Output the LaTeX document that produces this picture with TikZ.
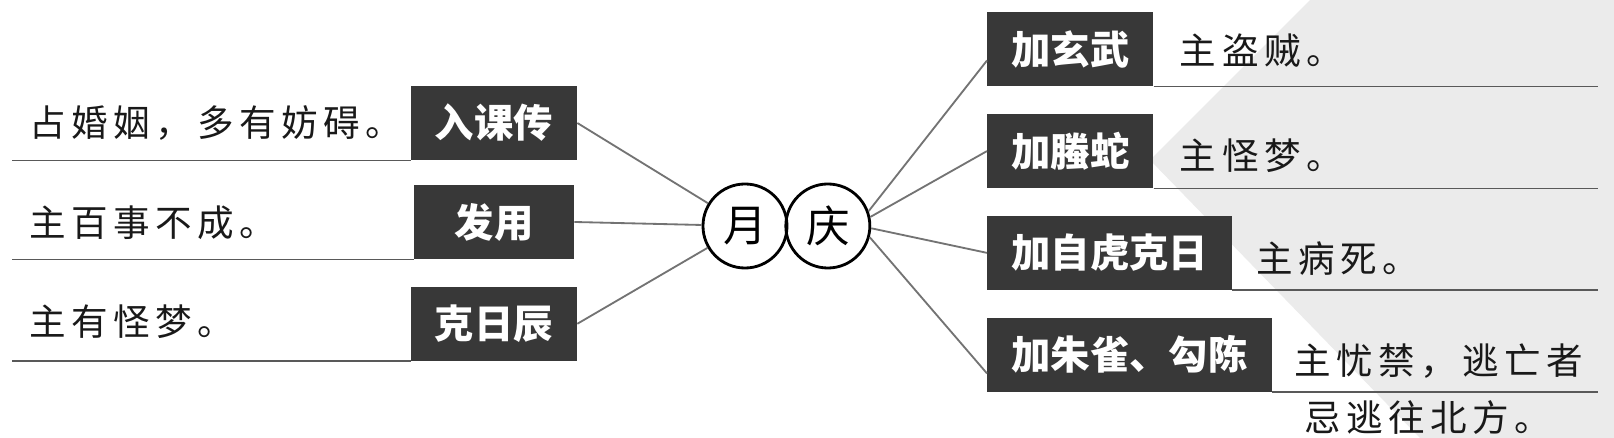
\documentclass[tikz,border=0pt]{standalone}
\usepackage{fontspec}
\newfontfamily\cjk{Noto Sans CJK SC}
\newfontfamily\cjkwide[LetterSpace=15]{Noto Sans CJK SC}
\usetikzlibrary{positioning}

\begin{document}
\begin{tikzpicture}[
      x=0.025cm,
      y=-0.025cm,
      tag_box/.style={
         rectangle,
         fill=black!78,
         text=white,
         inner xsep=0.6cm,
         inner ysep=0pt,
         minimum width=4cm,
         minimum height=1.85cm,
         font=\cjk\bfseries\fontsize{28}{30}\selectfont},
      note_text/.style={
         inner sep=0pt,
         text=black!90,
         font=\cjkwide\fontsize{26}{28}\selectfont},
      circle_mark/.style={
         circle,
         draw=black,
         line width=2pt,
         inner sep=0pt,
         minimum size=2.1cm,
         font=\cjk\fontsize{31}{33}\selectfont},
      link_line/.style={
         draw=black!55,
         line width=1.3pt},
      rule_line/.style={
         draw=black!65,
         line width=1.1pt},
]
      \useasboundingbox (0,0) rectangle (1614,438);
      \fill[white] (0,0) rectangle (1614,438);
      % faint seal in the back
      \fill[black!8] (1310,0) -- (1614,0) -- (1614,438) -- (1420,438) -- (1150,160) -- cycle;

      %center
      \node[circle_mark] (yue) at (745,226) {月};
      \node[circle_mark,right=-0.1cm of yue] (qing) {庆};

      %left
      \node[tag_box] (b_ruke) at (494,123) {入课传};
      \node[tag_box,below=0.61cm of b_ruke] (b_fayong) {发用};
      \node[tag_box,below=0.68cm of b_fayong] (b_keri) {克日辰};

      \node[note_text,anchor=west] (t_ruke) at (29,123) {占婚姻，多有妨碍。};
      \node[note_text,anchor=west] (t_fayong) at (29,223) {主百事不成。};
      \node[note_text,anchor=west] (t_keri) at (29,322) {主有怪梦。};

      %right
      \node[tag_box,anchor=north west] (b_xuanwu) at (987,12) {加玄武};
      \node[tag_box,below=0.68cm of b_xuanwu.south west,anchor=north west] (b_tengshe) {加螣蛇};
      \node[tag_box,below=0.68cm of b_tengshe.south west,anchor=north west] (b_baihu) {加自虎克日};
      \node[tag_box,below=0.68cm of b_baihu.south west,anchor=north west] (b_zhuque) {加朱雀、勾陈};

      \node[note_text,right=0.65cm of b_xuanwu,yshift=-0.05cm] (t_xuanwu) {主盗贼。};
      \node[note_text,right=0.65cm of b_tengshe,yshift=-0.12cm] (t_tengshe) {主怪梦。};
      \node[note_text,right=0.6cm of b_baihu,yshift=-0.15cm] (t_baihu) {主病死。};
      \node[note_text,right=0.55cm of b_zhuque,yshift=-0.15cm] (t_zhuque) {主忧禁，逃亡者};
      \node[note_text,below=0.55cm of t_zhuque.south west,anchor=north west,xshift=0.25cm] (t_zhuque2) {忌逃往北方。};

      %underlines
      \coordinate (edge_l) at (12,0);
      \coordinate (edge_r) at (1598,0);
      \foreach \b in {b_ruke,b_fayong,b_keri}
         \draw[rule_line] (\b.south west) -- (\b.south west -| edge_l);
      \foreach \b in {b_xuanwu,b_tengshe,b_baihu,b_zhuque}
         \draw[rule_line] (\b.south east) -- (\b.south east -| edge_r);

      %links
      \foreach \b in {b_ruke,b_fayong,b_keri}
         \draw[link_line] (yue) -- (\b.east);
      \foreach \a/\b/\dy in {% anchor on circle/box/shift at box
         20/b_xuanwu/-0.28,
         12/b_tengshe/0,
         -3/b_baihu/0,
         -15/b_zhuque/-0.47}
         \draw[link_line] (qing.\a) -- ([yshift=\dy cm]\b.west);

\end{tikzpicture}
\end{document}
